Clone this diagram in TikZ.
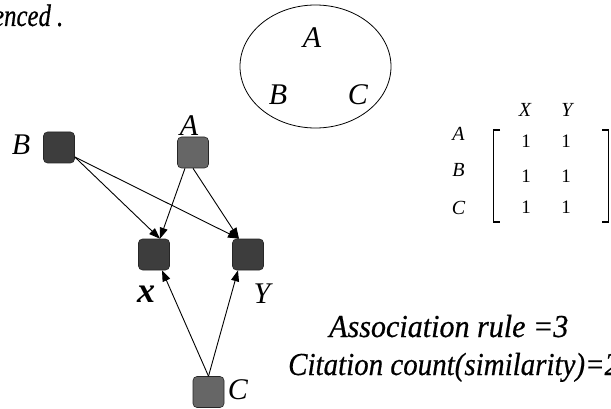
\documentclass[tikz,border=0pt]{standalone}
\usepackage{fontspec}
\setmainfont{Liberation Serif}
\newfontfamily\narrowserif[FakeStretch=0.94,FakeBold=0.5]{Liberation Serif}
\newfontfamily\citeserif[FakeStretch=0.905,FakeBold=0.5]{Liberation Serif}
\newfontfamily\headserif[FakeStretch=0.8,FakeBold=0.5]{Liberation Serif}
\usetikzlibrary{arrows.meta,shapes.geometric}

\begin{document}
\begin{tikzpicture}[x=1pt,y=-1pt,
  lbl/.style={inner sep=0pt, font=\fontsize{30}{30}\selectfont\itshape},
  mlbl/.style={inner sep=0pt, font=\fontsize{20}{20}\selectfont\itshape},
  mnum/.style={inner sep=0pt, font=\fontsize{19}{19}\selectfont},
  caption/.style={inner sep=0pt, font=\narrowserif\fontsize{32}{32}\selectfont\itshape},
  darkbox/.style={draw=black!85, fill=black!76, rounded corners=4pt,
    minimum size=31pt, inner sep=0pt, line width=0.6pt},
  lightbox/.style={darkbox, fill=black!60},
  link/.style={line width=0.9pt, -{Triangle[length=11pt,width=8pt]}},
  bracket/.style={line width=1.4pt}]

\useasboundingbox (0,0) rectangle (611,409);

% heading fragment
\node[inner sep=0pt, font=\headserif\fontsize{31}{31}\selectfont\itshape,
  anchor=base east] (head) at (63.5,26) {enced .};

% set of items
\node[ellipse, draw, line width=0.8pt, minimum width=151pt, minimum height=123pt,
  inner sep=0pt] (set) at (315.5,66.5) {};
\node[lbl] (setA) at (312,38) {A};
\node[lbl] (setB) at (278,95) {B};
\node[lbl] (setC) at (358,95) {C};

% graph nodes
\node[darkbox]  (B) at (59,147.5) {};
\node[lightbox] (A) at (193,152.5) {};
\node[darkbox]  (X) at (154,254.5) {};
\node[darkbox]  (Y) at (248,254.5) {};
\node[lightbox] (C) at (208.5,392) {};

\node[lbl] (labB) at (21,145) {B};
\node[lbl] (labA) at (189,126) {A};
\node[inner sep=0pt, font=\fontsize{36}{36}\selectfont\bfseries\itshape] (labX) at (146,294) {x};
\node[lbl] (labY) at (262,294) {Y};
\node[lbl] (labC) at (238,390) {C};

% citation links
\draw[link] ([yshift=-9.5]B.east) -- ([xshift=6]X.north);
\draw[link] ([yshift=-9.5]B.east) -- ([xshift=-9]Y.north);
\draw[link] ([xshift=-8]A.south) -- ([xshift=6]X.north);
\draw[link] (A.south) -- ([xshift=-9]Y.north);
\draw[link] (C.north) -- ([xshift=8]X.south);
\draw[link] (C.north) -- ([xshift=-10]Y.south);

% co-occurrence matrix
\node[mlbl] (mX) at (525,110) {X};
\node[mlbl] (mY) at (567,110) {Y};
\node[mlbl] (rA) at (458.5,133.5) {A};
\node[mlbl] (rB) at (458.5,170) {B};
\node[mlbl] (rC) at (458.5,207.5) {C};
\foreach \r/\y in {1/141.5,2/176,3/207.5}{
  \node[mnum] (m\r1) at (526,\y) {1};
  \node[mnum] (m\r2) at (566,\y) {1};
}
\draw[bracket] (500,130) -- (493.5,130) -- (493.5,222) -- (500,222);
\draw[bracket] (602,130) -- (608.5,130) -- (608.5,222) -- (602,222);

% results
\node[caption, anchor=base west] (assoc) at (329,337) {Association rule =3};
\node[caption, font=\citeserif\fontsize{32}{32}\selectfont\itshape,
  anchor=base west] (cite) at (288,375) {Citation count(similarity)=2};

\end{tikzpicture}
\end{document}
